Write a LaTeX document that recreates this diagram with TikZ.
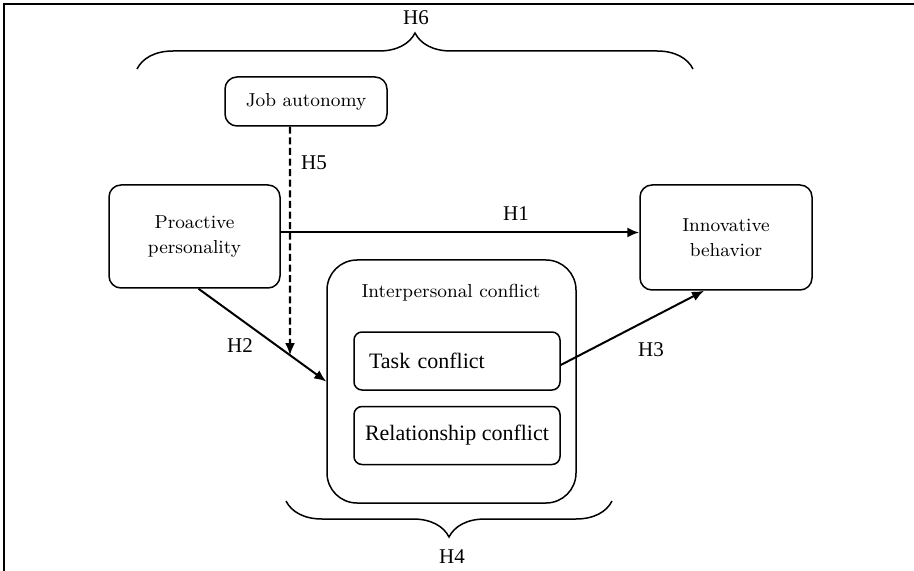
\documentclass[tikz,border=0pt]{standalone}
\usepackage{fontspec}
\usepackage{tikz}
\usetikzlibrary{arrows.meta,calc,intersections,decorations.pathreplacing}
\newfontfamily\camb{Liberation Serif}
\newcommand{\garfont}{\fontsize{9.4}{12.2}\selectfont}

\begin{document}
\begin{tikzpicture}[x=0.5pt,y=-0.5pt,>={Latex[length=6pt,width=5pt]},
    box/.style={draw,line width=0.75pt,rounded corners=6pt,align=center,font=\garfont},
    sub/.style={draw,line width=0.75pt,rounded corners=4pt,minimum width=103pt,
      minimum height=29pt,font=\camb\fontsize{11}{13}\selectfont},
    hyp/.style={font=\camb\fontsize{10.5}{12}\selectfont},
    link/.style={->,line width=1pt},
    brc/.style={line width=0.75pt,decorate,decoration={brace,amplitude=18pt}}]
  \useasboundingbox (0,0) rectangle (914,571);
  \draw[line width=1pt] (3.5,571) -- (3.5,4.5) -- (914,4.5);

  \node[box,minimum width=81pt,minimum height=24.5pt] (ja) at (306,101.5) {Job autonomy};
  \node[box,minimum width=85.5pt,minimum height=51.5pt] (pp) at (194.5,236.5) {Proactive\\personality};
  \node[box,minimum width=86pt,minimum height=52.5pt] (ib) at (726,237.5) {Innovative\\behavior};

  \node[box,rounded corners=15pt,minimum width=124.5pt,minimum height=121.5pt] (ic) at (451.5,381.5) {};
  \node[font=\garfont,anchor=base] (icl) at (451,298) {Interpersonal conflict};
  \node[sub,text width=88pt,align=left,inner xsep=7.5pt] (tc) at (457,361) {Task conflict};
  \node[sub] (rc) at (457,435.5) {Relationship conflict};

  % H1
  \draw[link] ([yshift=2pt]pp.east) -- ([yshift=2pt]pp.east -| ib.west);
  \node[hyp] (h1) at (516,214) {H1};

  % H2
  \coordinate (h2s) at ([xshift=2pt]pp.south);
  \draw[link,name path=h2line] (h2s) -- (ic.west);
  \node[hyp] (h2) at (240,346) {H2};

  % H5 ends on H2
  \coordinate (h5s) at ([xshift=-8pt]ja.south);
  \path[name path=h5line] (h5s) -- (h5s |- ic.south);
  \path[name intersections={of=h2line and h5line,by=h5e}];
  \draw[link,line width=1.1pt,dash pattern=on 3.5pt off 1.8pt] (h5s) -- (h5e);
  \node[hyp] (h5) at (314,163) {H5};

  % H3
  \draw[link] ([yshift=-2pt]tc.east) -- ([xshift=-11pt]ib.south);
  \node[hyp] (h3) at (651,350) {H3};

  % H6, H4
  \draw[brc] (137,69) -- (693,69);
  \node[hyp] (h6) at (416,18) {H6};
  \draw[brc] (612,501) -- (286,501);
  \node[hyp] (h4) at (452,557) {H4};
\end{tikzpicture}
\end{document}
